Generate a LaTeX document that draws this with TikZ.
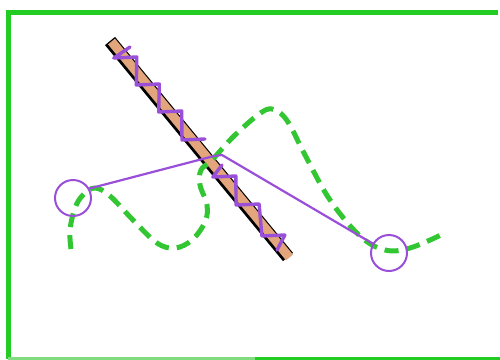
\documentclass[tikz,border=0pt]{standalone}
\usetikzlibrary{calc}
\definecolor{framegreen}{HTML}{22CC22}
\definecolor{framelight}{HTML}{7FDD7F}
\definecolor{dashgreen}{HTML}{33C633}
\definecolor{vio}{HTML}{9A4FD8}
\definecolor{rodtan}{HTML}{E2A57C}
\tikzset{
  ring/.style={circle, draw=vio, line width=2pt, minimum size=36pt, inner sep=0pt},
  link/.style={draw=vio, line width=2.2pt, line join=round},
  zz/.style={draw=vio, line width=3.4pt, line join=round, line cap=round},
  wave/.style={draw=dashgreen, line width=5pt, dash pattern=on 14pt off 8pt},
  edge/.style={line width=5pt}
}
\begin{document}
\begin{tikzpicture}[x=1pt,y=-1pt]
\useasboundingbox (0,0) rectangle (500,359);
\clip (0,0) rectangle (500,359);
% frame
\coordinate (f1) at (498,12);
\coordinate (f2) at (8,12);
\coordinate (f3) at (8,358.5);
\coordinate (f4) at (255,358.5);
\coordinate (f5) at (500,358.5);
\draw[edge, framegreen, line join=miter] (f1) -- (f2) -- (f3);
\draw[framelight, line width=3pt] (f3) -- (f4);
\draw[framegreen, line width=3pt] (f4) -- (f5);
% rod
\coordinate (rA) at (110,41);
\coordinate (rB) at (288,257);
\draw[black, line width=13pt] (rA) -- (rB);
\draw[rodtan, line width=9pt] ($(rA)+(1.5,0.5)$) -- ($(rB)+(1.5,0.5)$);
% zigzag (sawtooth along the rod)
\draw[zz] (130,47) -- (113.8,58) -- (136.8,57) -- (136.3,85) -- (159.3,84)
  -- (158.7,112) -- (181.7,111) -- (182,140) -- (205,139);
\draw[zz] (222,165) -- (212.8,177) -- (235.8,176) -- (236.1,205) -- (259.1,204)
  -- (261.9,236) -- (284.9,235) -- (277,250);
% wave
\draw[wave] plot[smooth, tension=0.6] coordinates {(71,249) (70,230) (75,208) (83,195) (95,188) (110,196) (133,220) (157,243) (175,248) (192,240) (205,222) (207,205) (200,185) (201,170) (212,160) (235,135) (262,112) (275,110) (288,122) (305,155) (330,200) (360,236) (385,250) (410,248) (443,234)};
% rings
\node[ring] (c1) at (73,198) {};
\node[ring] (c2) at (389,253) {};
\coordinate (apex1) at (214,156);
\coordinate (apex2) at (222,155);
\draw[link] (c1.30) -- (apex1) -- (apex2) -- (c2.150);
\end{tikzpicture}
\end{document}
